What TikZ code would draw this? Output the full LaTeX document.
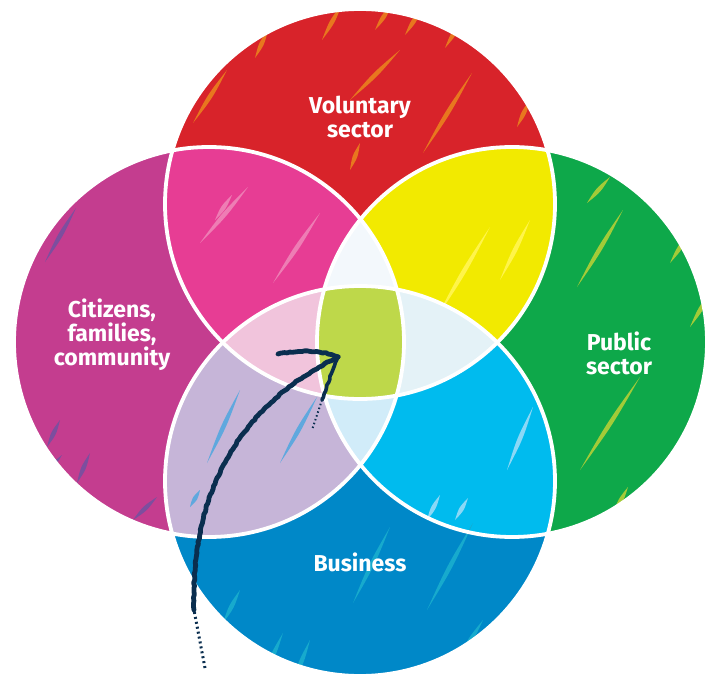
\documentclass[tikz,border=0pt]{standalone}
\usepackage{fontspec}
\setmainfont{Fira Sans}
\usetikzlibrary{calc,decorations.pathmorphing}
\definecolor{cRed}{HTML}{D8232A}
\definecolor{cOrange}{HTML}{E8771F}
\definecolor{cMag}{HTML}{C43D8F}
\definecolor{cMagS}{HTML}{7D4E9E}
\definecolor{cPink}{HTML}{E73D94}
\definecolor{cPinkS}{HTML}{EE7DB4}
\definecolor{cYel}{HTML}{F2EA00}
\definecolor{cYelS}{HTML}{FFF44A}
\definecolor{cGreen}{HTML}{0EA84A}
\definecolor{cGreenS}{HTML}{A3CB38}
\definecolor{cBlue}{HTML}{0088C8}
\definecolor{cBlueS}{HTML}{17AACD}
\definecolor{cCyan}{HTML}{00BBEE}
\definecolor{cCyanS}{HTML}{8BD8F6}
\definecolor{cLav}{HTML}{C6B5D8}
\definecolor{cLavS}{HTML}{5FA8DE}
\definecolor{cLtPink}{HTML}{F1C4DC}
\definecolor{cLtTop}{HTML}{F3F8FC}
\definecolor{cLtRight}{HTML}{E4F2F7}
\definecolor{cLtBot}{HTML}{D1ECF9}
\definecolor{cCenter}{HTML}{BED84A}
\definecolor{cArrow}{HTML}{0A2E4F}
\newcommand\scratchmark[3]{%
  \fill[#1] (#2) .. controls ($(#2)!0.5!(#3)!3pt!90:(#3)$) .. (#3)
     .. controls ($(#2)!0.5!(#3)!3pt!-90:(#3)$) .. (#2);}
\tikzset{
  label/.style={text=white, font=\bfseries\fontsize{23}{24}\selectfont, align=center, inner sep=0pt},
  outline/.style={draw=white, line width=3.8pt},
  arrowline/.style={draw=cArrow, line width=4.8pt, line cap=round, line join=round,
     decorate, decoration={random steps, segment length=3pt, amplitude=0.6pt}}
}
\begin{document}
\begin{tikzpicture}[x=1pt,y=-1pt]
\useasboundingbox (0,0) rectangle (715,674);
\def\R{195}
\coordinate (cT) at (360,204);
\coordinate (cL) at (209,342);
\coordinate (cR) at (512,342);
\coordinate (cB) at (360,481);
% base circles
\fill[cRed] (cT) circle[radius=\R];
\fill[cMag] (cL) circle[radius=\R];
\fill[cGreen] (cR) circle[radius=\R];
\fill[cBlue] (cB) circle[radius=\R];
% pairs
\begin{scope}\clip (cT) circle[radius=\R];
  \fill[cPink] (cL) circle[radius=\R];
  \fill[cYel] (cR) circle[radius=\R];
\end{scope}
\begin{scope}\clip (cB) circle[radius=\R];
  \fill[cLav] (cL) circle[radius=\R];
  \fill[cCyan] (cR) circle[radius=\R];
\end{scope}
% scratches, each kept inside its own circle
\begin{scope}\clip (cT) circle[radius=\R];
\scratchmark{cOrange}{350,100}{400,50}
\scratchmark{cOrange}{423,153}{472,73}
\scratchmark{cOrange}{350,170}{360,143}
\scratchmark{cOrange}{517,127}{530,100}
\scratchmark{cOrange}{193,123}{227,70}
\scratchmark{cOrange}{322,40}{342,4}
\scratchmark{cOrange}{375,30}{392,4}
\scratchmark{cOrange}{405,35}{422,8}
\scratchmark{cOrange}{445,48}{462,20}
\scratchmark{cOrange}{255,58}{268,30}
\scratchmark{cPinkS}{200,243}{248,187}
\scratchmark{cPinkS}{273,283}{320,213}
\scratchmark{cPinkS}{215,220}{232,195}
\scratchmark{cYelS}{437,317}{490,227}
\scratchmark{cYelS}{500,280}{530,220}
\end{scope}
\begin{scope}\clip (cL) circle[radius=\R];
\scratchmark{cMagS}{47,447}{60,420}
\scratchmark{cMagS}{77,483}{90,453}
\scratchmark{cMagS}{133,520}{157,497}
\scratchmark{cMagS}{45,262}{76,208}
\scratchmark{cMagS}{40,480}{62,455}
\end{scope}
\begin{scope}\clip (cR) circle[radius=\R];
\scratchmark{cGreenS}{580,470}{640,377}
\scratchmark{cGreenS}{577,287}{623,210}
\scratchmark{cGreenS}{670,263}{690,232}
\scratchmark{cGreenS}{690,327}{712,290}
\scratchmark{cGreenS}{587,203}{610,177}
\scratchmark{cGreenS}{613,515}{628,487}
\end{scope}
\begin{scope}\clip (cB) circle[radius=\R];
\scratchmark{cCyanS}{507,470}{533,407}
\scratchmark{cCyanS}{427,520}{440,495}
\scratchmark{cCyanS}{455,520}{468,498}
\scratchmark{cBlueS}{353,603}{390,527}
\scratchmark{cBlueS}{427,610}{473,523}
\scratchmark{cBlueS}{262,680}{283,633}
\scratchmark{cBlueS}{292,685}{310,640}
\scratchmark{cBlueS}{458,660}{483,620}
\scratchmark{cBlueS}{223,623}{240,590}
\scratchmark{cLavS}{207,463}{240,390}
\scratchmark{cLavS}{280,463}{317,397}
\scratchmark{cLavS}{190,507}{200,490}
\end{scope}
% triples
\begin{scope}\clip (cL) circle[radius=\R];\clip (cR) circle[radius=\R];
  \fill[cLtTop] (cT) circle[radius=\R];
  \fill[cLtBot] (cB) circle[radius=\R];
\end{scope}
\begin{scope}\clip (cT) circle[radius=\R];\clip (cB) circle[radius=\R];
  \fill[cLtPink] (cL) circle[radius=\R];
  \fill[cLtRight] (cR) circle[radius=\R];
\end{scope}
% all four
\begin{scope}\clip (cL) circle[radius=\R];\clip (cR) circle[radius=\R];\clip (cT) circle[radius=\R];
  \fill[cCenter] (cB) circle[radius=\R];
\end{scope}
% outlines
\draw[outline] (cT) circle[radius=\R];
\draw[outline] (cL) circle[radius=\R];
\draw[outline] (cR) circle[radius=\R];
\draw[outline] (cB) circle[radius=\R];
% labels
\node[label] (vol) at (360,117) {Voluntary\\sector};
\node[label] (cit) at (112,335) {Citizens,\\families,\\community};
\node[label] (pub) at (619,353) {Public\\sector};
\node[label] (bus) at (360,562) {Business};
% arrow
\coordinate (tail) at (205,668);
\coordinate (mid) at (194,610);
\coordinate (tip) at (338,357);
\coordinate (barbL) at (278,354);
\coordinate (barbD) at (322,400);
\coordinate (barbE) at (312,430);
\draw[cArrow, line width=3pt, dash pattern=on 2pt off 3pt] (tail) -- (mid);
\draw[arrowline] (mid) .. controls (190,480) and (250,400) .. (tip);
\draw[arrowline] (barbL) .. controls (300,350) and (322,350) .. (tip);
\draw[arrowline, line width=3.6pt] (tip) .. controls (332,372) and (326,388) .. (barbD);
\draw[cArrow, line width=2pt, dash pattern=on 1.5pt off 2.5pt] (barbD) -- (barbE);
\end{tikzpicture}
\end{document}
